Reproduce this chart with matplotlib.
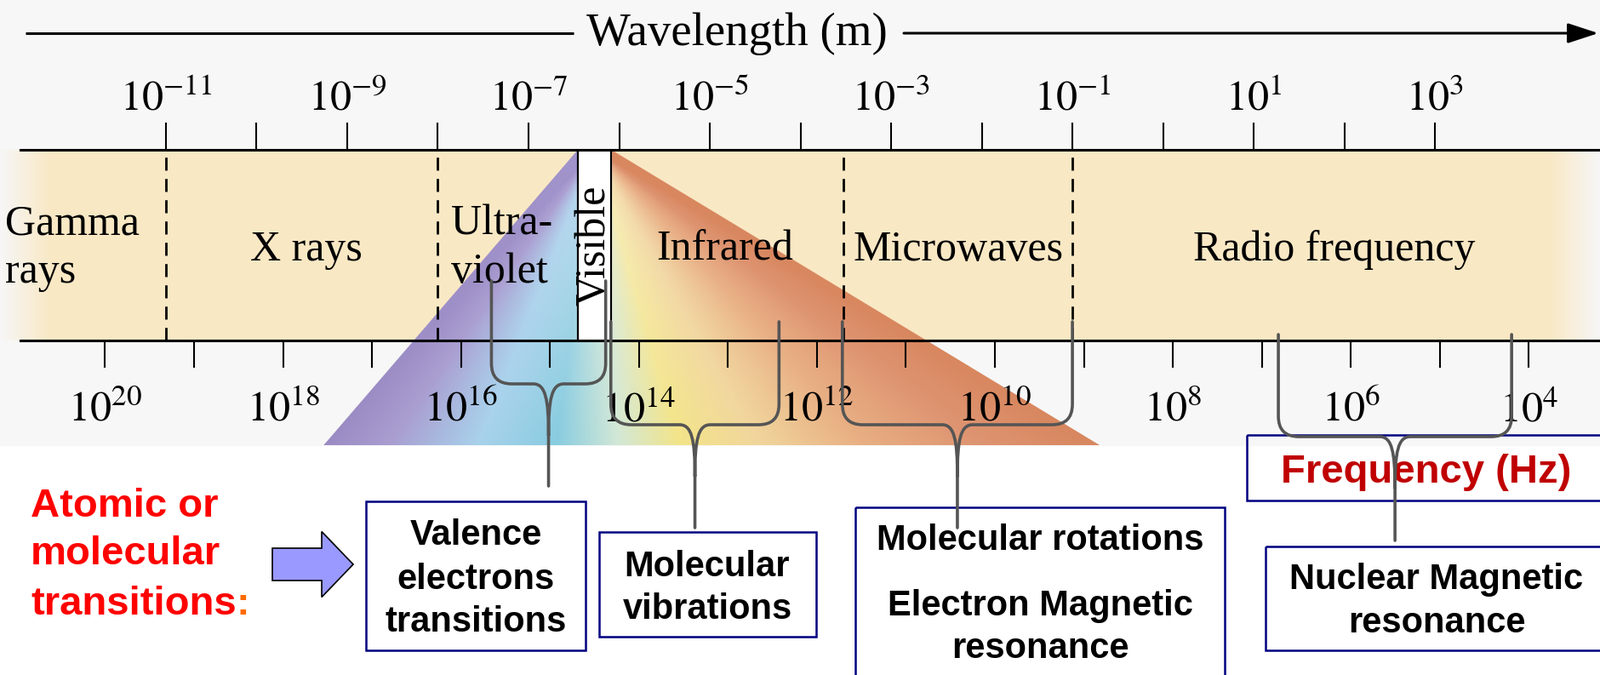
import numpy as np
import matplotlib
matplotlib.use("Agg")
import matplotlib.pyplot as plt
from matplotlib import transforms
from matplotlib.path import Path
from matplotlib.patches import PathPatch, Polygon, Rectangle, FancyArrow
from matplotlib.ticker import NullLocator
from matplotlib.colors import to_rgb

# ---- data ----
wl_exp = np.arange(-11, 4)            # wavelength ticks 10^n m
freq_exp = np.arange(4, 21)           # frequency ticks 10^n Hz
wl_lim = (10 ** -12.83, 10 ** 4.82)
freq_lim = (10 ** 21.18, 10 ** 3.20)

bounds = [1e-11, 1e-8, 3e-4, 1e-1]    # dashed region borders (m)
visible = (3.5e-7, 8.2e-7)
fan_foot = (5.5e-10, 0.2)             # where the colour fans leave the picture

regions = ["Gamma\nrays", "X rays", "Ultra-\nviolet", "Infrared", "Microwaves", "Radio frequency"]
region_lam = [10 ** -12.77, 10 ** -9.45, 10 ** -7.85, 10 ** -4.83, 10 ** -2.26, 10 ** 1.89]
region_ha = ["left", "center", "left", "center", "center", "center"]

brace_spans = [(3.9e-8, 7.1e-7), (8.1e-7, 5.8e-5), (2.9e-4, 0.10), (18.7, 7000)]

transitions = [["Valence", "electrons", "transitions"],
               ["Molecular", "vibrations"],
               ["Molecular rotations", "Electron Magnetic", "resonance"],
               ["Nuclear Magnetic", "resonance"]]

plt.rcParams['mathtext.fontset'] = 'stix'
SERIF = 'Liberation Serif'
SANS = 'Liberation Sans'

W, H = 1880, 793
fig = plt.figure(figsize=(W / 100, H / 100), dpi=100)
fig.patch.set_facecolor('white')

band_top, band_bot, img_bot = 176, 400, 523

deco = fig.add_axes([0, 0, 1, 1], zorder=0)
ax = fig.add_axes([0, 1 - band_bot / H, 1, (band_bot - band_top) / H], zorder=2)
top = fig.add_axes([0, 0, 1, 1], zorder=5)
for a in (deco, top):
    a.set_xlim(0, W)
    a.set_ylim(H, 0)
    a.axis('off')
top.patch.set_alpha(0)

# band axis: wavelength on top, frequency below
ax.set_facecolor('none')
ax.set_xscale('log')
ax.set_xlim(*wl_lim)
ax.set_ylim(0, 1)
ax.set_yticks([])
axf = ax.twiny()
axf.set_xscale('log')
axf.set_xlim(*freq_lim)
for s in axf.spines.values():
    s.set_visible(False)
for s in ('left', 'right'):
    ax.spines[s].set_visible(False)
for s in ('top', 'bottom'):
    ax.spines[s].set_linewidth(2.2)
    ax.spines[s].set_bounds(10 ** -12.6, wl_lim[1])

ax.xaxis.set_ticks_position('top')
ax.set_xticks(10.0 ** wl_exp)
ax.set_xticklabels([f'$10^{{{e}}}$' if e % 2 else '' for e in wl_exp])
axf.xaxis.set_ticks_position('bottom')
axf.set_xticks(10.0 ** freq_exp)
axf.set_xticklabels([f'$10^{{{e}}}$' if e % 2 == 0 else '' for e in freq_exp])
for a, pad in ((ax, 3), (axf, 18)):
    a.xaxis.set_minor_locator(NullLocator())
    a.tick_params(axis='x', direction='out', length=23, width=1.5, pad=pad, labelsize=36)

blend = transforms.blended_transform_factory(ax.transData, deco.transData)


def lam_x(lam):
    return deco.transData.inverted().transform(ax.transData.transform((lam, 0.5)))[0]


# gray picture background and tan band with faded ends
deco.add_patch(Rectangle((0, 0), W, img_bot, color='#F7F7F7', zorder=0))
xs = np.arange(W) + 0.5
band = np.zeros((1, W, 4))
band[..., :3] = to_rgb('#F9E8C4')
band[0, :, 3] = np.interp(xs, [0, 60, 1820, W], [0, 1, 1, 0])
deco.imshow(band, extent=(0, W, band_bot, band_top), aspect='auto', zorder=1)

# colour fans spreading from the visible strip
apL, apR = lam_x(visible[0]), lam_x(visible[1])
ftL, ftR = lam_x(fan_foot[0]), lam_x(fan_foot[1])
apC = (apL + apR) / 2
x0, x1 = int(ftL) - 2, int(ftR) + 2
gx, gy = np.meshgrid(np.arange(x0, x1) + 0.5, np.arange(band_top, img_bot) + 0.5)
proj = apC + (gx - apC) * (img_bot - band_top) / np.maximum(gy - band_top, 1e-3)
u = (proj - ftL) / (ftR - ftL)
t = np.clip((gy - band_top) / (img_bot - band_top), 0, 1)[..., None] ** 0.8
stops = [0.0, 0.08, 0.2, 0.3, 0.38, 0.46, 0.56, 0.7, 0.85, 1.0]
pale = np.array([to_rgb(c) for c in ['#A295CC', '#ADA1D3', '#B9D7EE', '#C9E2EE', '#E6EEE4',
                                     '#F8F0C8', '#F4DCB2', '#EBB68E', '#DE9471', '#D8875F']])
deep = np.array([to_rgb(c) for c in ['#9B8BC4', '#A99CCF', '#A8D2EC', '#88CCE0', '#D2E8D6',
                                     '#F3E488', '#F1D69C', '#E8AE82', '#DE9471', '#D8875F']])
fan_top = np.stack([np.interp(u, stops, pale[:, k]) for k in range(3)], axis=-1)
fan_bot = np.stack([np.interp(u, stops, deep[:, k]) for k in range(3)], axis=-1)
fan = fan_top * (1 - t) + fan_bot * t
im = deco.imshow(fan, extent=(x0, x1, img_bot, band_top), aspect='auto', zorder=2)
im.set_clip_path(Polygon([(apL, band_top), (apR, band_top), (ftR, img_bot), (ftL, img_bot)],
                         closed=True, transform=deco.transData))
deco.set_xlim(0, W)
deco.set_ylim(H, 0)

# region borders, visible strip and names
for b in bounds:
    ax.axvline(b, color='black', lw=2.0, ls=(0, (5.5, 3.5)))
ax.axvspan(*visible, color='white', zorder=2)
for v in visible:
    ax.axvline(v, color='black', lw=1.6, zorder=3)
ax.text(np.sqrt(visible[0] * visible[1]), 288, 'Visible', rotation=90, ha='center', va='center',
        fontsize=36, family=SERIF, transform=blend, zorder=4)
for name, lam, ha in zip(regions, region_lam, region_ha):
    lines = name.split('\n')
    base = 306 if len(lines) == 1 else 275
    for i, ln in enumerate(lines):
        ax.text(lam, base + 57 * i, ln, ha=ha, va='baseline', fontsize=36, family=SERIF,
                transform=blend, zorder=4)

# wavelength arrow
deco.plot([30, 674], [39, 39], color='black', lw=2.2, solid_capstyle='butt')
deco.text(866, 53, 'Wavelength (m)', ha='center', va='baseline', fontsize=39.5, family=SERIF)
deco.annotate('', xy=(1878, 39), xytext=(1062, 39),
              arrowprops=dict(arrowstyle='-|>,head_length=1.1,head_width=0.36', mutation_scale=20,
                              color='black', lw=2.2, shrinkA=0, shrinkB=0))

# braces
brace_tops = [330, 378, 378, 393]
brace_bars = [451, 499, 499, 513]
brace_tips = [571, 620, 620, 635]


def brace(xl, xr, ytop, ybar, ytip, r=24, d=18, h=60):
    xc = (xl + xr) / 2
    verts, codes = [], []
    for xa, s in ((xl, 1), (xr, -1)):
        verts += [(xa, ytop), (xa, ybar - r), (xa, ybar), (xa + s * r, ybar),
                  (xc - s * d, ybar), (xc - s * d * 0.2, ybar), (xc, ybar + h * 0.3), (xc, ybar + h)]
        codes += [Path.MOVETO, Path.LINETO, Path.CURVE3, Path.CURVE3, Path.LINETO,
                  Path.CURVE4, Path.CURVE4, Path.CURVE4]
    verts += [(xc, ybar + h), (xc, ytip)]
    codes += [Path.MOVETO, Path.LINETO]
    top.add_patch(PathPatch(Path(verts, codes), fill=False, edgecolor='#555555', lw=2.6,
                            capstyle='round', joinstyle='round', zorder=4))


for (la, lb), yt, yb, yp in zip(brace_spans, brace_tops, brace_bars, brace_tips):
    brace(lam_x(la), lam_x(lb), yt, yb, yp)

# boxes with the transitions
boxes = [(430, 589, 688, 764), (704, 625, 959, 748), (1005, 596, 1439, 800), (1487, 642, 1890, 764)]
box_cx = [559, 831, 1222, 1688]
box_base = [[640, 692, 742], [677, 727], [646, 723, 773], [692, 743]]
for (bx0, by0, bx1, by1), cx, lines, bases in zip(boxes, box_cx, transitions, box_base):
    top.add_patch(Rectangle((bx0, by0), bx1 - bx0, by1 - by0, fill=False, edgecolor='#000080',
                            lw=1.8, zorder=1))
    for ln, yb in zip(lines, bases):
        top.text(cx, yb, ln, ha='center', va='baseline', fontsize=30, weight='bold',
                 family=SANS, zorder=2)

top.add_patch(Rectangle((1465, 511), 430, 77, fill=False, edgecolor='#000080', lw=1.8, zorder=1))
top.text(1676, 567, 'Frequency (Hz)', ha='center', va='baseline', fontsize=34, weight='bold',
         family=SANS, color='#C00000', zorder=2)

for ln, yb in zip(["Atomic or", "molecular"], [607, 663]):
    top.text(36, yb, ln, ha='left', va='baseline', fontsize=34, weight='bold', family=SANS,
             color='#FF0000')
t_last = top.text(36, 722, 'transitions', ha='left', va='baseline', fontsize=34, weight='bold',
                  family=SANS, color='#FF0000')
top.annotate(':', xy=(1, 0), xycoords=t_last, ha='left', va='bottom', fontsize=34,
             weight='bold', family=SANS, color='#FF6A00')

top.add_patch(FancyArrow(320, 663, 95, 0, width=38, head_width=77, head_length=37,
                         length_includes_head=True, facecolor='#9999FF', edgecolor='black',
                         lw=1.2, zorder=3))

fig.savefig('out.png', dpi=100)
